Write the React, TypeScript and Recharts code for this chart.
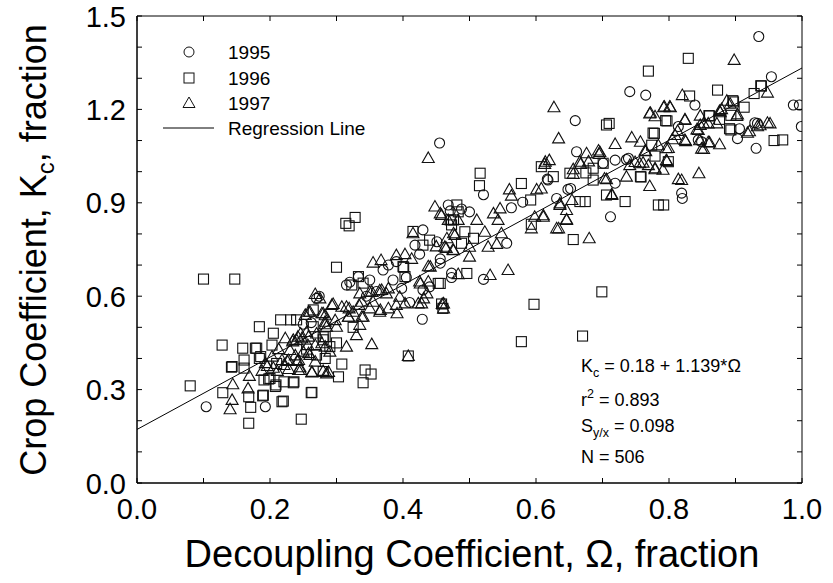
import React from 'react';
import { ScatterChart, Scatter, XAxis, YAxis, ReferenceArea, ReferenceLine } from 'recharts';

const FONT = '"Liberation Sans", Arial, Helvetica, sans-serif';
const W = 833;
const H = 583;
const PLOT = { left: 137, top: 16, right: 802, bottom: 483 };

const xTicks = [0, 0.1, 0.2, 0.3, 0.4, 0.5, 0.6, 0.7, 0.8, 0.9, 1.0];
const xLabelTicks = [0, 0.2, 0.4, 0.6, 0.8, 1.0];
const yTicks = [0, 0.1, 0.2, 0.3, 0.4, 0.5, 0.6, 0.7, 0.8, 0.9, 1.0, 1.1, 1.2, 1.3, 1.4, 1.5];
const yLabelTicks = [0, 0.3, 0.6, 0.9, 1.2, 1.5];

const seriesNames = ['1995', '1996', '1997'];
const regressionName = 'Regression Line';
const regressionX = [0, 1.0];
const regressionY = [0.172, 1.333];
const statLines = ['0.18 + 1.139*Ω', '0.893', '0.098', '506'];

const data1995: [number, number][] = [
  [0.104,0.245],[0.193,0.245],[0.25,0.51],[0.262,0.515],[0.27,0.593],[0.274,0.6],
  [0.315,0.636],[0.32,0.645],[0.333,0.663],[0.35,0.652],[0.36,0.615],[0.37,0.684],[0.385,0.652],
  [0.398,0.625],[0.39,0.711],[0.425,0.735],[0.43,0.813],[0.418,0.764],[0.451,0.775],[0.43,0.62],
  [0.429,0.526],[0.468,0.893],[0.473,0.674],[0.456,0.706],[0.455,1.092],[0.471,0.874],[0.5,0.871],
  [0.521,0.926],[0.473,0.66],[0.521,0.654],[0.58,0.902],[0.563,0.884],[0.618,0.973],[0.631,0.914],
  [0.648,0.943],[0.617,0.976],[0.652,0.946],[0.659,1.164],[0.661,1.064],[0.701,1.027],[0.719,1.037],
  [0.739,1.043],[0.712,0.855],[0.719,0.963],[0.741,1.257],[0.765,1.246],[0.814,1.145],[0.82,0.914],
  [0.736,1.039],[0.839,1.214],[0.844,1.102],[0.849,1.096],[0.906,1.138],[0.903,1.106],[0.933,1.155],
  [0.929,1.157],[0.931,1.075],[0.935,1.434],[0.954,1.305],[0.987,1.214],[0.996,1.214],[0.999,1.145],
  [0.819,0.931],[0.556,0.77],[0.456,0.72],[0.488,0.88],[0.405,0.66],[0.44,0.63],[0.345,0.6],
  [0.41,0.58],[0.378,0.7]
];

const data1996: [number, number][] = [
  [0.08,0.312],[0.1,0.655],[0.147,0.655],[0.128,0.443],[0.129,0.29],[0.159,0.433],[0.161,0.395],
  [0.143,0.374],[0.168,0.277],[0.171,0.243],[0.168,0.192],[0.184,0.502],[0.178,0.433],[0.184,0.4],
  [0.189,0.28],[0.205,0.481],[0.203,0.443],[0.198,0.334],[0.209,0.315],[0.22,0.263],[0.216,0.524],
  [0.231,0.524],[0.24,0.524],[0.221,0.325],[0.236,0.325],[0.247,0.205],[0.265,0.556],[0.265,0.502],
  [0.28,0.46],[0.18,0.433],[0.161,0.369],[0.142,0.372],[0.186,0.406],[0.2,0.336],[0.19,0.282],
  [0.262,0.29],[0.218,0.261],[0.283,0.4],[0.28,0.47],[0.29,0.438],[0.308,0.382],[0.303,0.341],
  [0.343,0.363],[0.34,0.322],[0.263,0.291],[0.235,0.322],[0.328,0.853],[0.314,0.834],[0.319,0.826],
  [0.3,0.693],[0.333,0.663],[0.323,0.636],[0.34,0.642],[0.401,0.693],[0.403,0.663],[0.43,0.764],
  [0.453,0.641],[0.46,0.561],[0.408,0.408],[0.471,0.845],[0.481,0.893],[0.415,0.808],[0.4,0.695],
  [0.458,0.575],[0.706,1.15],[0.701,1.027],[0.686,1.011],[0.651,0.995],[0.686,0.973],[0.706,0.925],
  [0.608,1.016],[0.626,0.984],[0.516,0.995],[0.515,0.955],[0.578,0.962],[0.592,0.909],[0.674,0.904],
  [0.593,0.831],[0.656,0.782],[0.483,0.871],[0.476,0.845],[0.473,0.829],[0.493,0.807],[0.488,0.77],
  [0.506,0.786],[0.496,0.673],[0.456,0.641],[0.699,0.614],[0.597,0.574],[0.67,0.472],[0.578,0.454],
  [0.71,1.155],[0.795,1.164],[0.776,1.124],[0.774,1.085],[0.779,1.05],[0.757,0.984],[0.734,0.904],
  [0.784,0.893],[0.792,0.893],[0.675,0.996],[0.666,0.904],[0.799,1.032],[0.829,1.364],[0.769,1.323],
  [0.873,1.262],[0.938,1.276],[0.928,1.251],[0.831,1.243],[0.896,1.228],[0.913,1.207],[0.893,1.181],
  [0.891,1.138],[0.971,1.102],[0.86,1.18],[0.797,1.163],[0.778,1.123],[0.758,0.983],[0.861,1.179],
  [0.876,1.168],[0.893,1.134],[0.897,1.224],[0.958,1.1],[0.939,1.275],[0.352,0.35],[0.44,0.78],
  [0.283,0.47],[0.27,0.411],[0.21,0.384],[0.191,0.331],[0.208,0.31],[0.28,0.358],[0.255,0.43],
  [0.3,0.45],[0.325,0.5]
];

const data1997: [number, number][] = [
  [0.144,0.317],[0.143,0.267],[0.14,0.237],[0.169,0.344],[0.167,0.304],[0.203,0.406],[0.193,0.385],
  [0.205,0.37],[0.223,0.465],[0.234,0.455],[0.221,0.379],[0.241,0.392],[0.245,0.372],[0.238,0.41],
  [0.226,0.392],[0.253,0.54],[0.248,0.465],[0.268,0.607],[0.258,0.55],[0.278,0.545],[0.235,0.46],
  [0.242,0.47],[0.255,0.485],[0.27,0.48],[0.283,0.51],[0.218,0.395],[0.228,0.395],[0.258,0.417],
  [0.268,0.39],[0.28,0.36],[0.263,0.355],[0.246,0.363],[0.228,0.366],[0.211,0.36],[0.196,0.376],
  [0.355,0.708],[0.367,0.716],[0.35,0.614],[0.365,0.619],[0.378,0.625],[0.335,0.609],[0.39,0.732],
  [0.403,0.735],[0.413,0.72],[0.415,0.802],[0.438,0.696],[0.425,0.647],[0.438,0.647],[0.423,0.577],
  [0.45,0.76],[0.465,0.755],[0.448,0.888],[0.456,0.866],[0.476,0.802],[0.459,0.575],[0.295,0.575],
  [0.275,0.593],[0.319,0.561],[0.334,0.572],[0.35,0.561],[0.365,0.55],[0.378,0.561],[0.39,0.572],
  [0.403,0.577],[0.285,0.502],[0.3,0.502],[0.335,0.508],[0.34,0.534],[0.33,0.475],[0.24,0.459],
  [0.258,0.47],[0.268,0.443],[0.283,0.438],[0.29,0.422],[0.26,0.411],[0.243,0.395],[0.243,0.363],
  [0.263,0.357],[0.288,0.357],[0.315,0.438],[0.353,0.446],[0.408,0.408],[0.293,0.572],[0.315,0.566],
  [0.338,0.582],[0.353,0.615],[0.368,0.62],[0.391,0.545],[0.366,0.556],[0.338,0.534],[0.318,0.534],
  [0.283,0.539],[0.26,0.55],[0.426,0.641],[0.436,0.609],[0.428,0.577],[0.466,0.786],[0.478,0.797],
  [0.475,0.749],[0.441,0.695],[0.431,0.593],[0.438,1.044],[0.634,1.107],[0.676,1.059],[0.694,1.068],
  [0.666,1.032],[0.656,1.008],[0.703,0.978],[0.614,1.032],[0.56,0.943],[0.563,0.923],[0.601,0.943],
  [0.654,0.909],[0.636,0.893],[0.646,0.877],[0.646,0.845],[0.631,0.818],[0.598,0.855],[0.611,0.855],
  [0.593,0.818],[0.68,0.786],[0.546,0.882],[0.536,0.866],[0.543,0.845],[0.458,0.861],[0.468,0.845],
  [0.483,0.845],[0.511,0.845],[0.463,0.759],[0.476,0.748],[0.5,0.759],[0.523,0.807],[0.528,0.759],
  [0.541,0.768],[0.5,0.727],[0.548,0.802],[0.483,0.671],[0.531,0.668],[0.558,0.684],[0.461,0.577],
  [0.461,0.561],[0.82,1.246],[0.627,1.207],[0.719,1.089],[0.772,1.189],[0.779,1.178],[0.792,1.207],
  [0.802,1.207],[0.824,1.168],[0.809,1.118],[0.744,1.11],[0.757,1.096],[0.764,1.067],[0.784,1.085],
  [0.796,1.075],[0.796,1.037],[0.779,1.011],[0.769,1.021],[0.741,1.021],[0.756,1.027],[0.736,0.984],
  [0.771,0.954],[0.814,0.976],[0.706,0.976],[0.714,0.925],[0.695,1.057],[0.679,1.033],[0.667,1.025],
  [0.656,0.993],[0.636,0.898],[0.646,0.847],[0.634,0.818],[0.613,1.025],[0.62,1.037],[0.608,0.946],
  [0.611,0.86],[0.898,1.359],[0.948,1.254],[0.887,1.228],[0.892,1.218],[0.879,1.201],[0.903,1.184],
  [0.877,1.191],[0.921,1.13],[0.937,1.149],[0.952,1.155],[0.847,1.18],[0.859,1.155],[0.872,1.155],
  [0.847,1.15],[0.824,1.166],[0.824,1.102],[0.844,1.134],[0.861,1.094],[0.876,1.088],[0.852,1.073],
  [0.845,0.995],[0.819,0.973],[0.793,1.209],[0.801,1.209],[0.771,1.187],[0.696,1.063],[0.765,1.066],
  [0.799,1.076],[0.797,1.034],[0.749,1.031],[0.761,1.029],[0.779,1.008],[0.791,1.006],[0.813,1.131],
  [0.852,1.155],[0.842,1.136],[0.825,1.098],[0.805,1.104],[0.846,1.101],[0.859,1.095],[0.849,1.074],
  [0.902,1.179],[0.876,1.195],[0.918,1.125],[0.933,1.146],[0.948,1.157],[0.714,0.928],
  [0.257,0.443],[0.278,0.449],[0.25,0.422],[0.23,0.427],[0.285,0.352],[0.308,0.566],[0.318,0.534],
  [0.325,0.55],[0.355,0.582],[0.395,0.598],[0.375,0.609],[0.28,0.545],[0.298,0.523],[0.283,0.518],
  [0.246,0.48],[0.213,0.43],[0.188,0.36]
];

const toPoints = (arr: [number, number][]) => arr.map(([x, y]) => ({ x, y }));

const STROKE = '#111';

const CircleShape = (p: any) => (
  <circle cx={p.cx} cy={p.cy} r={5} fill="none" stroke={STROKE} strokeWidth={1.1} />
);
const SquareShape = (p: any) => (
  <rect x={p.cx - 5} y={p.cy - 5} width={10} height={10} fill="none" stroke={STROKE} strokeWidth={1.1} />
);
const TriangleShape = (p: any) => (
  <path
    d={`M${p.cx},${p.cy - 6}L${p.cx + 6},${p.cy + 4.5}L${p.cx - 6},${p.cy + 4.5}Z`}
    fill="none"
    stroke={STROKE}
    strokeWidth={1.1}
  />
);

const near = (list: number[], v: number) => list.some((t) => Math.abs(t - v) < 1e-6);

const XTick = (props: any) => {
  const { x, payload } = props;
  const v = payload.value as number;
  return (
    <g>
      <line x1={x} x2={x} y1={PLOT.bottom} y2={PLOT.bottom - 5} stroke="#000" />
      <line x1={x} x2={x} y1={PLOT.top} y2={PLOT.top + 5} stroke="#000" />
      {near(xLabelTicks, v) && (
        <text x={x} y={PLOT.bottom + 36} textAnchor="middle" fontSize={29} fontFamily={FONT} fill="#000">
          {v.toFixed(1)}
        </text>
      )}
    </g>
  );
};

const YTick = (props: any) => {
  const { y, payload } = props;
  const v = payload.value as number;
  return (
    <g>
      <line x1={PLOT.left} x2={PLOT.left + 5} y1={y} y2={y} stroke="#000" />
      <line x1={PLOT.right} x2={PLOT.right - 5} y1={y} y2={y} stroke="#000" />
      {near(yLabelTicks, v) && (
        <text x={PLOT.left - 11} y={y + 10.5} textAnchor="end" fontSize={29} fontFamily={FONT} fill="#000">
          {v.toFixed(1)}
        </text>
      )}
    </g>
  );
};

export default function App() {
  const legendX = 189;
  const legendTextX = 228;
  const legendY = [52, 78, 103, 128];
  return (
    <div style={{ position: 'absolute', left: 0, top: 0, width: W, height: H, background: '#fff' }}>
      <ScatterChart
        width={W}
        height={H}
        margin={{ top: PLOT.top, right: W - PLOT.right, bottom: H - PLOT.bottom - 30, left: PLOT.left - 60 }}
      >
        <XAxis
          type="number"
          dataKey="x"
          domain={[0, 1]}
          ticks={xTicks}
          interval={0}
          tick={<XTick />}
          tickLine={false}
          tickSize={0}
          tickMargin={0}
          axisLine={{ stroke: '#000' }}
          height={30}
          allowDataOverflow
        />
        <YAxis
          type="number"
          dataKey="y"
          domain={[0, 1.5]}
          ticks={yTicks}
          interval={0}
          tick={<YTick />}
          tickLine={false}
          tickSize={0}
          tickMargin={0}
          axisLine={{ stroke: '#000' }}
          width={60}
          allowDataOverflow
        />
        <ReferenceArea x1={0} x2={1} y1={0} y2={1.5} fill="none" stroke="#000" strokeWidth={1} />
        <Scatter name={seriesNames[0]} data={toPoints(data1995)} shape={CircleShape} isAnimationActive={false} />
        <Scatter name={seriesNames[1]} data={toPoints(data1996)} shape={SquareShape} isAnimationActive={false} />
        <Scatter name={seriesNames[2]} data={toPoints(data1997)} shape={TriangleShape} isAnimationActive={false} />
        <ReferenceLine
          segment={[
            { x: regressionX[0], y: regressionY[0] },
            { x: regressionX[1], y: regressionY[1] },
          ]}
          stroke="#000"
          strokeWidth={1}
        />
      </ScatterChart>
      <svg
        width={W}
        height={H}
        style={{ position: 'absolute', left: 0, top: 0, pointerEvents: 'none' }}
        fontFamily={FONT}
      >
        {/* legend */}
        <circle cx={legendX} cy={legendY[0]} r={5} fill="none" stroke={STROKE} />
        <rect x={legendX - 5} y={legendY[1] - 5} width={10} height={10} fill="none" stroke={STROKE} />
        <path
          d={`M${legendX},${legendY[2] - 6}L${legendX + 6},${legendY[2] + 4.5}L${legendX - 6},${legendY[2] + 4.5}Z`}
          fill="none"
          stroke={STROKE}
        />
        <line x1={163} x2={214} y1={legendY[3]} y2={legendY[3]} stroke="#000" />
        {seriesNames.map((n, i) => (
          <text key={n} x={legendTextX} y={legendY[i] + 7} fontSize={19} fill="#000">
            {n}
          </text>
        ))}
        <text x={legendTextX} y={legendY[3] + 7} fontSize={19} fill="#000">
          {regressionName}
        </text>

        {/* statistics */}
        <text x={581} y={372} fontSize={18} fill="#000">
          K<tspan fontSize={12.5} dy={5}>c</tspan>
          <tspan dy={-5}>{' = ' + statLines[0]}</tspan>
        </text>
        <text x={581} y={406} fontSize={18} fill="#000">
          r<tspan fontSize={12.5} dy={-8}>2</tspan>
          <tspan dy={8}>{' = ' + statLines[1]}</tspan>
        </text>
        <text x={581} y={432} fontSize={18} fill="#000">
          S<tspan fontSize={12.5} dy={5}>y/x</tspan>
          <tspan dy={-5}>{' = ' + statLines[2]}</tspan>
        </text>
        <text x={581} y={463} fontSize={18} fill="#000">
          {'N = ' + statLines[3]}
        </text>

        {/* axis titles */}
        <text x={472} y={567} textAnchor="middle" fontSize={38} fill="#000">
          Decoupling Coefficient, Ω, fraction
        </text>
        <text transform="translate(46,250) rotate(-90)" textAnchor="middle" fontSize={36} fill="#000">
          Crop Coefficient, K<tspan fontSize={24} dy={8}>c</tspan>
          <tspan dy={-8}>, fraction</tspan>
        </text>
      </svg>
    </div>
  );
}
